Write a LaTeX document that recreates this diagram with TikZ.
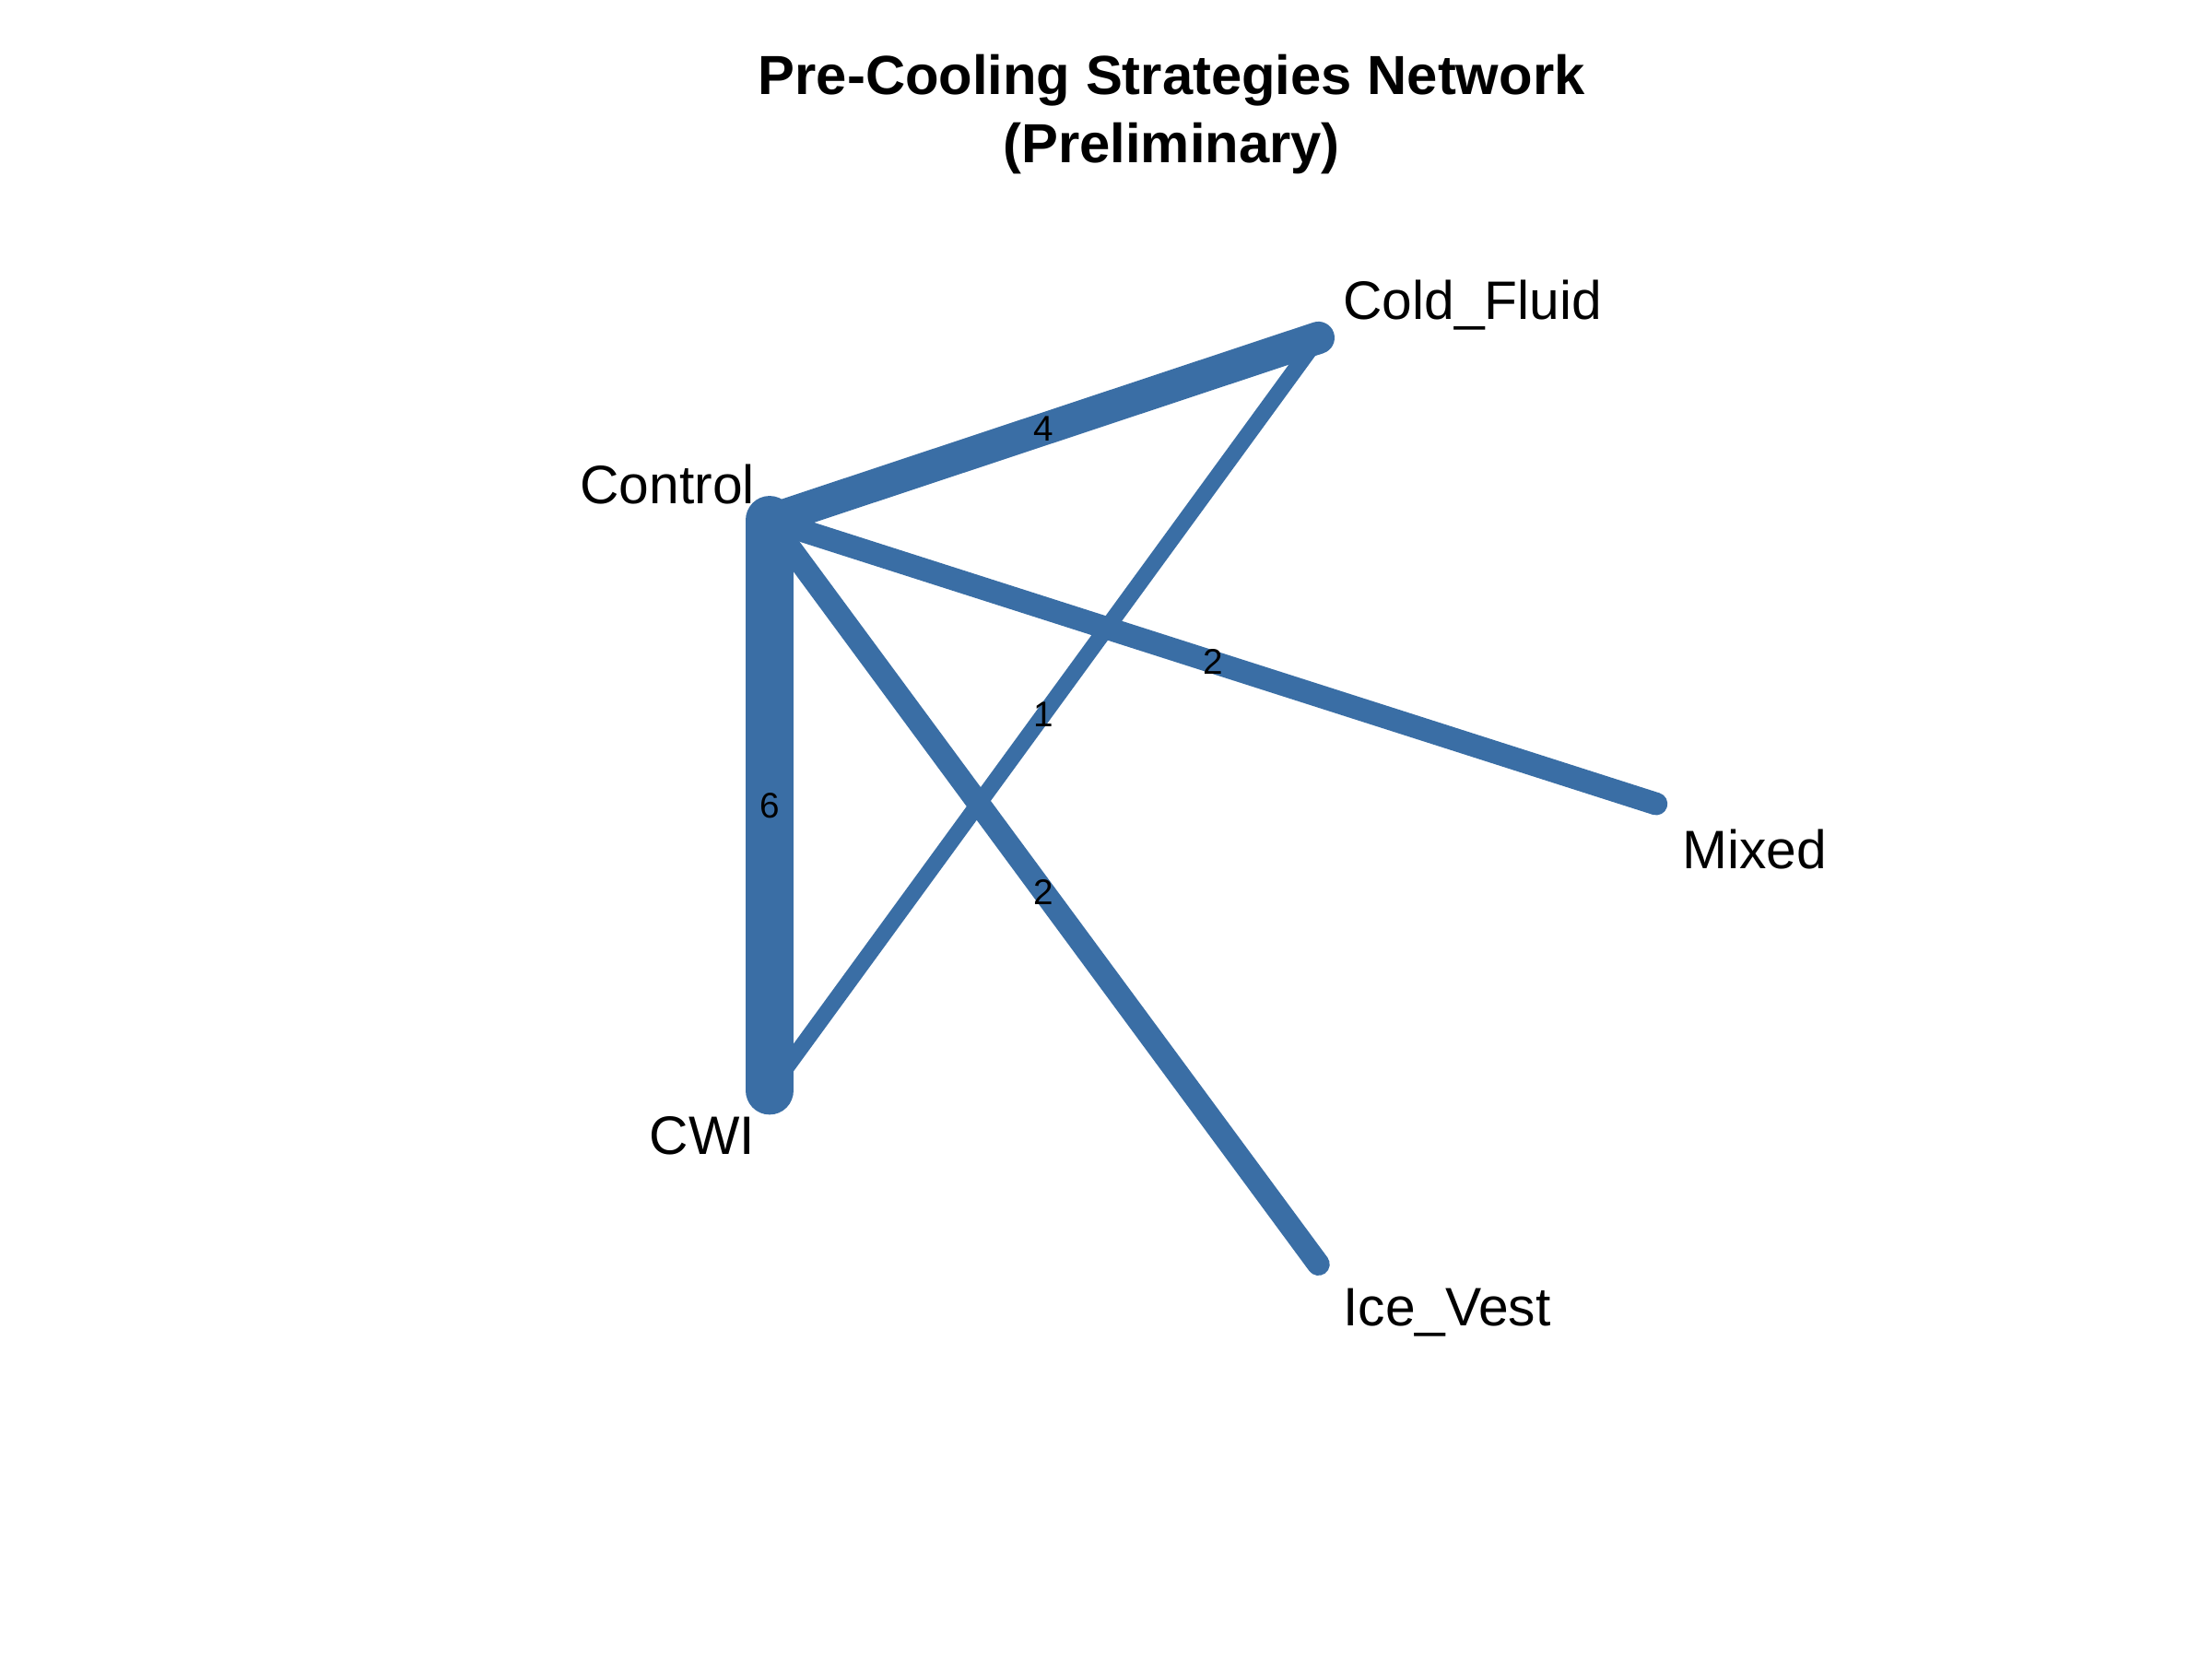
\documentclass[tikz,border=0pt]{standalone}
\usepackage{fontspec}
\setmainfont{Liberation Sans}
\definecolor{edgeblue}{HTML}{3A6EA5}
\tikzset{
  edge/.style={draw=edgeblue, line cap=round},
  wlabel/.style={font=\fontsize{11}{12}\selectfont, inner sep=1pt},
  vname/.style={font=\fontsize{16.7}{19}\selectfont, inner sep=0pt}
}
\begin{document}
\begin{tikzpicture}[x=0.015464cm, y=-0.015464cm]
  \useasboundingbox (0,0) rectangle (1552,1164);
  \node[font=\bfseries\fontsize{17}{21}\selectfont, align=center] (title) at (822,80) {Pre-Cooling Strategies Network\\(Preliminary)};

  \coordinate (control) at (540,365);
  \coordinate (cold) at (925,237);
  \coordinate (mixed) at (1162,564);
  \coordinate (cwi) at (540,765);
  \coordinate (ice) at (925,887);

  \draw[edge, line width=5pt] (cold) to node[wlabel, pos=0.5] {1} (cwi);
  \draw[edge, line width=7pt] (control) to node[wlabel, pos=0.5] {2} (mixed);
  \draw[edge, line width=7pt] (control) to node[wlabel, pos=0.5] {2} (ice);
  \draw[edge, line width=10pt] (control) to node[wlabel, pos=0.5] {4} (cold);
  \draw[edge, line width=15pt] (control) to node[wlabel, pos=0.5] {6} (cwi);

  \node[vname, anchor=east] (lcontrol) at (530,340) {Control};
  \node[vname, anchor=west] (lcold) at (942,214) {Cold\_Fluid};
  \node[vname, anchor=west] (lmixed) at (1180,596) {Mixed};
  \node[vname, anchor=east] (lcwi) at (530,797) {CWI};
  \node[vname, anchor=west] (lice) at (942,921) {Ice\_Vest};
\end{tikzpicture}
\end{document}
